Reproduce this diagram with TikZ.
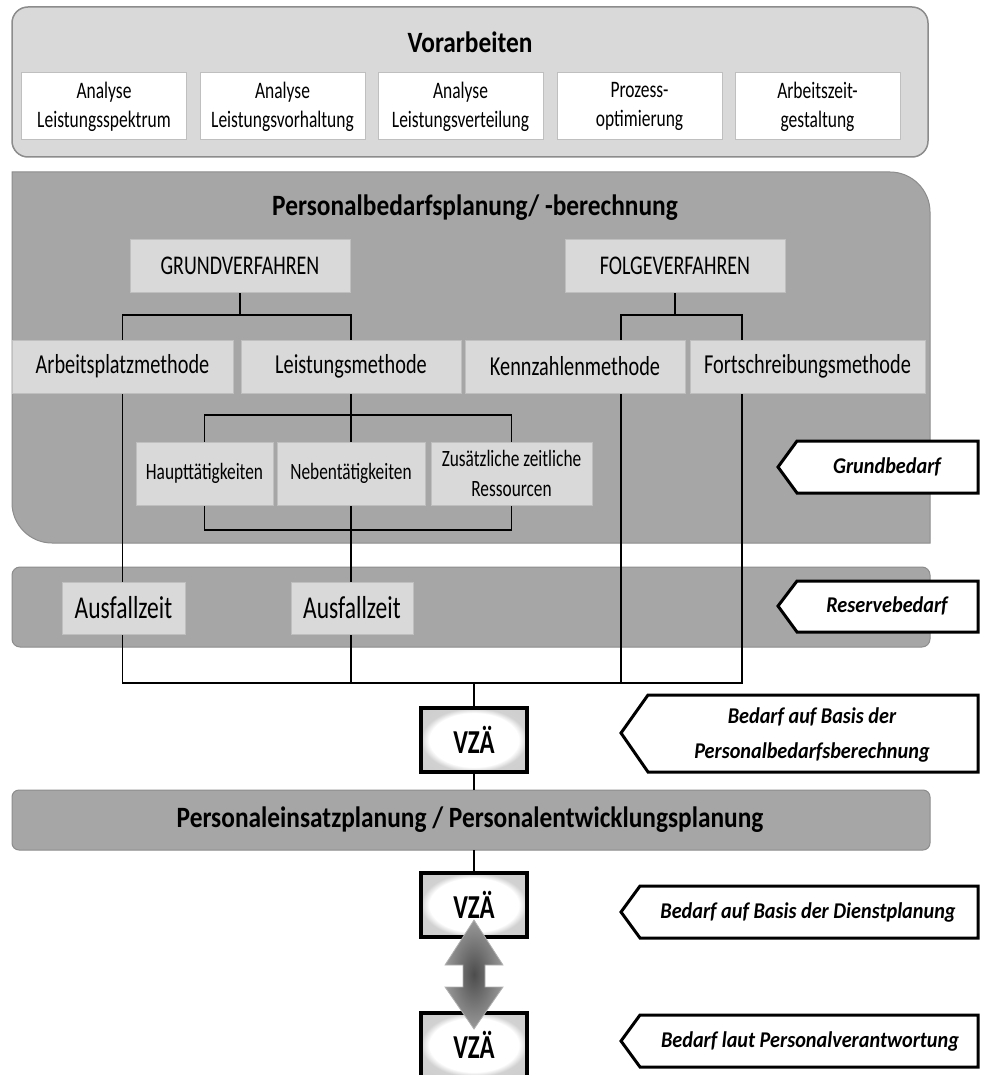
\documentclass[tikz,border=0pt]{standalone}
\usepackage{fontspec}
\setmainfont{Carlito}
\newfontfamily\fc{Carlito}[FakeStretch=0.74]
\newfontfamily\ft{Carlito}[FakeStretch=0.86]
\newfontfamily\fg{Carlito}[FakeStretch=0.9]
\usetikzlibrary{calc}
\definecolor{lightg}{HTML}{D9D9D9}
\definecolor{midg}{HTML}{A6A6A6}
\definecolor{edgeg}{HTML}{8C8C8C}
\definecolor{boxedge}{HTML}{BFBFBF}
\pgfdeclareradialshading{vzashade}{\pgfpoint{0bp}{0bp}}{color(0bp)=(white); color(21bp)=(white); color(25bp)=(black!18); color(50bp)=(black!22)}
\pgfdeclarelayer{bg}
\pgfdeclarelayer{lines}
\pgfsetlayers{bg,lines,main}
\begin{document}
\begin{tikzpicture}[x=1pt,y=-1pt,
  wbox/.style={draw=boxedge, fill=white, line width=1pt, minimum width=165pt, minimum height=67pt, align=center, inner sep=0pt, font=\fc\fontsize{23.6}{29}\selectfont},
  gbox/.style={draw=boxedge, fill=lightg, line width=1pt, align=center, inner sep=0pt},
  conn/.style={draw=black, line width=1.8pt},
  tagline/.style={draw=black, fill=white, line width=3pt, line join=miter},
  tagtext/.style={align=center, font=\fg\fontsize{22.5}{35}\selectfont\bfseries\itshape},
  vza/.style={draw=black, line width=3.5pt, shading=vzashade, minimum width=106pt, minimum height=64pt, inner sep=0pt, font=\fc\fontsize{33.5}{36}\selectfont\bfseries},
  ttl/.style={font=\ft\fontsize{29.5}{34}\selectfont\bfseries},
  band/.style={fill=midg, draw=edgeg, line width=1pt}
]
\useasboundingbox (0,0) rectangle (980,1075);

% ---------- backgrounds ----------
\begin{pgfonlayer}{bg}
\draw[fill=lightg, draw=edgeg, line width=1.5pt, rounded corners=16pt] (12,7) rectangle (928,157);
\draw[band] (12,172) -- (890,172) .. controls (912,172) and (930,190) .. (930,212)
   -- (930,543) -- (52,543) .. controls (30,543) and (12,525) .. (12,503) -- cycle;
\draw[band, rounded corners=8pt] (12,567) rectangle (930,647);
\draw[band, rounded corners=7pt] (12,790) rectangle (930,850);
\end{pgfonlayer}

% ---------- Vorarbeiten ----------
\node[ttl] (vt) at (470,42) {Vorarbeiten};
\node[wbox] (v1) at (104,106.5) {Analyse\\Leistungsspektrum};
\node[wbox] (v2) at (282.5,106.5) {Analyse\\Leistungsvorhaltung};
\node[wbox] (v3) at (460.5,106.5) {Analyse\\Leistungsverteilung};
\node[wbox] (v4) at (639.5,106.5) {Prozess-\\optimierung};
\node[wbox] (v5) at (817.5,106.5) {Arbeitszeit-\\gestaltung};

% ---------- Personalbedarfsplanung ----------
\node[ttl] (pt) at (475,208) {Personalbedarfsplanung/ -berechnung};
\node[gbox, minimum width=220pt, minimum height=52pt, font=\fc\fontsize{27}{30}\selectfont] (GV) at (240,266) {GRUNDVERFAHREN};
\node[gbox, minimum width=220pt, minimum height=52pt, font=\fc\fontsize{27}{30}\selectfont] (FV) at (675,266) {FOLGEVERFAHREN};

\node[gbox, minimum width=221pt, minimum height=53pt, font=\fc\fontsize{27.4}{30}\selectfont] (AM) at (122.5,366.5) {Arbeitsplatzmethode};
\node[gbox, minimum width=220pt, minimum height=53pt, font=\fc\fontsize{27.4}{30}\selectfont] (LM) at (351,366.5) {Leistungsmethode};
\node[gbox, minimum width=220pt, minimum height=53pt, font=\fc\fontsize{27.4}{30}\selectfont] (KM) at (575,366.5) {Kennzahlenmethode};
\node[gbox, minimum width=235pt, minimum height=53pt, font=\fc\fontsize{27.4}{30}\selectfont] (FM) at (807.5,366.5) {Fortschreibungsmethode};

\node[gbox, minimum width=137pt, minimum height=63pt, font=\fc\fontsize{23.4}{30}\selectfont] (HT) at (204.5,473.5) {Haupttätigkeiten};
\node[gbox, minimum width=148pt, minimum height=63pt, font=\fc\fontsize{23.4}{30}\selectfont] (NT) at (351,473.5) {Nebentätigkeiten};
\node[gbox, minimum width=161pt, minimum height=63pt, font=\fc\fontsize{23.4}{30}\selectfont] (ZR) at (511.5,473.5) {Zusätzliche zeitliche\\Ressourcen};

% ---------- Reserve ----------
\node[gbox, minimum width=123pt, minimum height=52pt, font=\fc\fontsize{31.8}{34}\selectfont] (A1) at (123.5,608) {Ausfallzeit};
\node[gbox, minimum width=122pt, minimum height=52pt, font=\fc\fontsize{31.8}{34}\selectfont] (A2) at (352,608) {Ausfallzeit};

% ---------- lower part ----------
\node[vza] (V1) at (474,740) {VZÄ};
\node[ttl] (pe) at (470,820) {Personaleinsatzplanung / Personalentwicklungsplanung};
\coordinate (pet) at (474,790);
\coordinate (peb) at (474,850);
\node[vza] (V2) at (474,905) {VZÄ};
\node[vza] (V3) at (474,1045) {VZÄ};

% ---------- connectors ----------
\coordinate (gb) at (240,315);
\coordinate (fb) at (675,315);
\coordinate (lb) at (351,415);
\coordinate (lb2) at (351,530);
\coordinate (bus) at (474,683);
\coordinate (kx) at (621,0);
\coordinate (fx) at (742,0);
\begin{pgfonlayer}{lines}
\draw[conn] (GV.south) -- (gb) -| (AM.north);
\draw[conn] (gb) -| (LM.north);
\draw[conn] (FV.south) -- (fb) -| (KM.north -| kx);
\draw[conn] (fb) -| (FM.north -| fx);
\draw[conn] (LM.south) -- (lb) -| (HT.north);
\draw[conn] (lb) -| (ZR.north);
\draw[conn] (lb) -- (NT.north);
\draw[conn] (HT.south) |- (lb2);
\draw[conn] (ZR.south) |- (lb2);
\draw[conn] (NT.south) -- (lb2) -- (lb2 |- A2.north);
\draw[conn] (AM.south) -- (AM.south |- A1.north);
\draw[conn] (AM.south |- A1.south) |- (bus);
\draw[conn] (lb2 |- A2.south) |- (bus);
\draw[conn] (KM.south -| kx) |- (bus);
\draw[conn] (FM.south -| fx) |- (bus);
\draw[conn] (bus) -- (V1.north);
\draw[conn] (V1.south) -- (pet);
\draw[conn] (peb) -- (V2.north);
\end{pgfonlayer}

% ---------- tags ----------
\draw[tagline] (778,467) -- (797,441) -- (978,441) -- (978,493) -- (797,493) -- cycle;
\node[tagtext] (t1) at (887,467) {Grundbedarf};
\draw[tagline] (778,606) -- (797,581) -- (978,581) -- (978,632) -- (797,632) -- cycle;
\node[tagtext] (t2) at (887,606) {Reservebedarf};
\draw[tagline] (621,733) -- (648,695) -- (978,695) -- (978,772) -- (648,772) -- cycle;
\node[tagtext] (t3) at (812,735) {Bedarf auf Basis der\\Personalbedarfsberechnung};
\draw[tagline] (621,912) -- (640,886) -- (978,886) -- (978,938) -- (640,938) -- cycle;
\node[tagtext] (t4) at (808,912) {Bedarf auf Basis der Dienstplanung};
\draw[tagline] (621,1041) -- (640,1015) -- (978,1015) -- (978,1067) -- (640,1067) -- cycle;
\node[tagtext] (t5) at (810,1041) {Bedarf laut Personalverantwortung};

% ---------- double arrow ----------
\shade[inner color=black!70, outer color=black!40, draw=black!30, line width=0.8pt]
  (474,920) -- (503,965) -- (485,965) -- (485,987) -- (503,987) -- (474,1029)
  -- (445,987) -- (463,987) -- (463,965) -- (445,965) -- cycle;
\end{tikzpicture}
\end{document}
